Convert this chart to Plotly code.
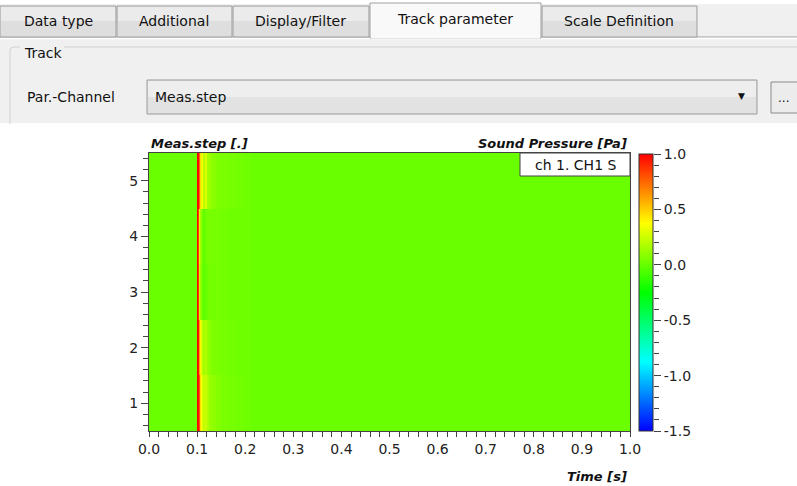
import plotly.graph_objects as go

W, H = 797, 486

# ---------------- data ----------------
time_edges = [0.0, 0.09875, 0.10083, 0.10291, 0.10499, 0.10707, 0.10915, 0.11123, 0.11538, 0.11954,
              0.12370, 0.12994, 0.13825, 0.14865, 0.16320, 0.17983, 0.19854, 0.21102, 1.0]
step_edges = [0.5, 1.5, 2.5, 3.5, 4.5, 5.5]
step1 = [0.01, 0.99, 0.97, 0.80, 0.45, 0.38, 0.30, 0.22, 0.25, 0.18, 0.12, 0.10, 0.07, 0.05, 0.04, 0.03, 0.02, 0.01]
step2 = [0.01, 0.99, 0.95, 0.60, 0.40, 0.30, 0.20, 0.15, 0.18, 0.12, 0.08, 0.06, 0.05, 0.04, 0.03, 0.02, 0.02, 0.01]
step3 = [0.01, 0.99, 0.85, 0.25, 0.12, 0.08, 0.02, -0.03, 0.00, 0.03, 0.04, 0.03, 0.04, 0.03, 0.02, 0.02, 0.02, 0.01]
step4 = [0.01, 0.99, 0.85, 0.30, 0.15, 0.10, 0.05, -0.02, 0.02, 0.04, 0.05, 0.04, 0.04, 0.03, 0.02, 0.02, 0.02, 0.01]
step5 = [0.01, 0.99, 0.97, 0.75, 0.45, 0.30, 0.38, 0.20, 0.28, 0.15, 0.12, 0.08, 0.06, 0.05, 0.04, 0.03, 0.02, 0.01]
z_min, z_max = -1.5, 1.0
colorscale = [[0.0, "#0000ff"], [0.25, "#00ffff"], [0.5, "#00ff00"], [0.75, "#ffff00"], [1.0, "#ff0000"]]
cbar_tickvals = [-1.5, -1.0, -0.5, 0.0, 0.5, 1.0]
cbar_ticktext = ["-1.5", "-1.0", "-0.5", "0.0", "0.5", "1.0"]

tabs = ["Data type", "Additional", "Display/Filter", "Track parameter", "Scale Definition"]
tab_edges = [0, 116, 232, 369, 541, 697]
legend_text = "ch 1. CH1 S"


def X(px):
    return px / W


def Y(py):
    return 1 - py / H


FONT = "DejaVu Sans"

fig = go.Figure()
fig.add_trace(go.Heatmap(
    x=time_edges, y=step_edges, z=[step1, step2, step3, step4, step5],
    zmin=z_min, zmax=z_max, colorscale=colorscale, zsmooth=False,
    colorbar=dict(x=X(639), xanchor="left", y=Y(292.5), yanchor="middle",
                  lenmode="pixels", len=277, thicknessmode="pixels", thickness=14,
                  xpad=0, ypad=0, outlinewidth=1, outlinecolor="#333",
                  showticklabels=False, ticks=""),
    xaxis="x", yaxis="y", hoverinfo="skip"))

# dummy trace for colorbar tick axis
fig.add_trace(go.Scatter(x=[0], y=[0], mode="markers", marker=dict(opacity=0),
                         xaxis="x2", yaxis="y2", hoverinfo="skip", showlegend=False))

axis_font = dict(family=FONT, size=14, color="#222")
fig.update_layout(
    template="none",
    width=W, height=H, margin=dict(l=0, r=0, t=0, b=0, pad=0, autoexpand=False),
    paper_bgcolor="white", plot_bgcolor="white", showlegend=False,
    xaxis=dict(domain=[X(149), X(630)], range=[0, 1.0], dtick=0.1, tick0=0, tickformat=".1f",
               ticks="outside", ticklen=5, tickcolor="#444", showline=True, linecolor="#444",
               mirror=True, showgrid=False, zeroline=False, tickfont=axis_font, automargin=False,
               minor=dict(dtick=0.02, ticks="outside", ticklen=5, tickcolor="#444", showgrid=False),
               anchor="y"),
    yaxis=dict(domain=[Y(431), Y(153)], range=[0.5, 5.5], dtick=1, tick0=0,
               ticks="outside", ticklen=7, tickcolor="#444", showline=True, linecolor="#444",
               mirror=True, showgrid=False, zeroline=False, tickfont=axis_font, automargin=False,
               minor=dict(dtick=0.2, tick0=0, ticks="outside", ticklen=5, tickcolor="#444", showgrid=False),
               anchor="x"),
    xaxis2=dict(domain=[X(639), X(653)], range=[0, 1], visible=False, anchor="y2", automargin=False),
    yaxis2=dict(domain=[Y(431), Y(154)], range=[z_min, z_max],
                tickmode="array", tickvals=cbar_tickvals, ticktext=cbar_ticktext,
                side="right", anchor="free", position=X(653), automargin=False,
                ticks="outside", ticklen=7, tickcolor="#444", showline=False,
                showgrid=False, zeroline=False, tickfont=axis_font,
                minor=dict(dtick=0.1, tick0=0, ticks="outside", ticklen=5, tickcolor="#444", showgrid=False)),
)

shapes = []
ann = []


def rect(x0, y0, x1, y1, fill, line_color=None, lw=1, layer="above"):
    shapes.append(dict(type="rect", xref="paper", yref="paper", x0=X(x0), x1=X(x1), y0=Y(y1), y1=Y(y0),
                       fillcolor=fill, layer=layer,
                       line=dict(color=line_color, width=lw) if line_color else dict(width=0)))


def hline(x0, x1, y, color, lw=1):
    shapes.append(dict(type="line", xref="paper", yref="paper", x0=X(x0), x1=X(x1), y0=Y(y), y1=Y(y),
                       line=dict(color=color, width=lw)))


def text(x, y, s, size=14, xanchor="left", color="#111"):
    ann.append(dict(x=X(x), y=Y(y), xref="paper", yref="paper", text=s, showarrow=False,
                    xanchor=xanchor, yanchor="middle", font=dict(family=FONT, size=size, color=color)))


# --------- UI: top panel ---------
rect(0, 0, 797, 123, "#f0f0f0", layer="below")
rect(0, 0, 797, 4, "#ffffff", layer="below")
hline(0, 797, 37, "#a0a0a0")
hline(0, 797, 38.5, "#ffffff", 1.5)
for i, name in enumerate(tabs):
    x0, x1 = tab_edges[i], tab_edges[i + 1]
    sel = name == "Track parameter"
    if sel:
        rect(x0 + 1, 3, x1, 38, "#f9f9f9", "#a0a0a0")
        hline(x0 + 2, x1 - 1, 37.5, "#f9f9f9", 2)
        text((x0 + x1) / 2, 19, name, xanchor="center")
    else:
        rect(x0 + (0 if i == 0 else 1), 6, x1, 37, "#dedede", "#a0a0a0")
        rect(x0 + (1 if i == 0 else 2), 7, x1 - 1, 21, "#ebebeb")
        text((x0 + x1) / 2, 21, name, xanchor="center")

# group box "Track"
shapes.append(dict(type="path", xref="paper", yref="paper",
                   path=f"M {X(20)},{Y(47)} L {X(14)},{Y(47)} Q {X(10)},{Y(47)} {X(10)},{Y(51)} L {X(10)},{Y(124)}",
                   line=dict(color="#d0d0d0", width=1)))
hline(64, 797, 47, "#d0d0d0")
text(22, 53, "Track")
text(25, 97, "Par.-Channel")
# combo box
rect(147, 80, 757, 114, "#e2e2e2", "#9a9a9a")
rect(148, 81, 756, 97, "#eeeeee")
text(153, 97, "Meas.step")
text(741, 96, "▼", size=9, xanchor="center")
# "..." button
rect(771, 82, 800, 113, "#ececec", "#8a8a8a")
text(783, 98, "...", size=12, xanchor="center")

# --------- chart titles ---------
text(149, 143, "<b><i>Meas.step [.]</i></b>", size=13)
text(629, 143, "<b><i>Sound Pressure [Pa]</i></b>", size=13, xanchor="right")
text(629, 476, "<b><i>Time [s]</i></b>", size=13, xanchor="right")

# legend box
rect(520, 153, 630, 176, "white", "#444")
text(575, 165, legend_text, xanchor="center")

fig.update_layout(shapes=shapes, annotations=ann)
fig.write_html("out.html", config={"displayModeBar": False},
               post_script="document.body.style.margin='0';document.body.style.overflow='hidden';")
